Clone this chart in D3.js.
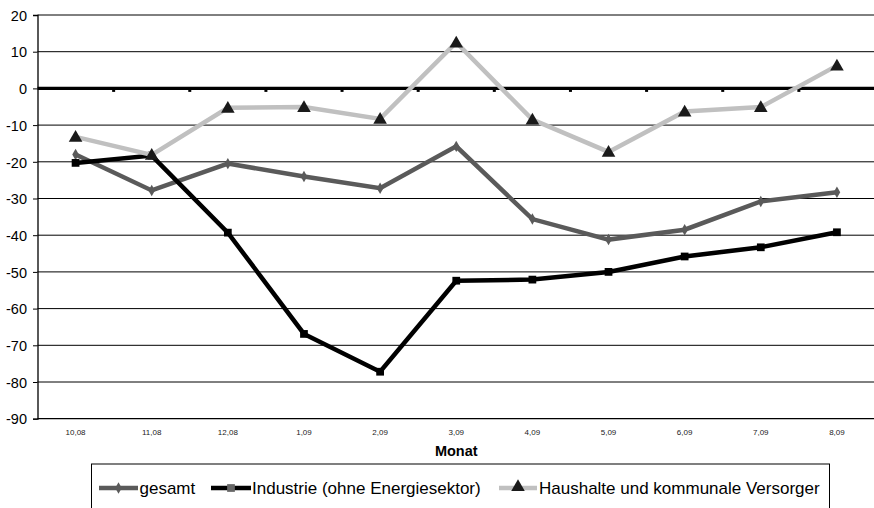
<!DOCTYPE html>
<html>
<head>
<meta charset="utf-8">
<script src="https://cdn.jsdelivr.net/npm/d3@7"></script>
<style>
  html, body { margin: 0; padding: 0; background: #fff; }
  svg { display: block; font-family: "Liberation Sans", Arial, sans-serif; }
</style>
</head>
<body>
<svg id="chart" width="874" height="508"></svg>
<script>
// Monthly change by consumer group
const months = ["10,08", "11,08", "12,08", "1,09", "2,09", "3,09", "4,09", "5,09", "6,09", "7,09", "8,09"];
const gesamt = [-18, -27.8, -20.5, -24.0, -27.2, -15.8, -35.6, -41.2, -38.5, -30.8, -28.3];
const industrie = [-20.3, -18.3, -39.3, -66.9, -77.2, -52.4, -52.1, -50.0, -45.8, -43.3, -39.2];
const haushalte = [-13.2, -18.1, -5.3, -5.1, -8.3, 12.5, -8.5, -17.3, -6.3, -5.1, 6.2];
const yTicks = [20, 10, 0, -10, -20, -30, -40, -50, -60, -70, -80, -90];
const seriesNames = ["gesamt", "Industrie (ohne Energiesektor)", "Haushalte und kommunale Versorger"];

const series = [
  { name: seriesNames[0], values: gesamt, color: "#5a5a5a", marker: "diamond", markerColor: "#5a5a5a", legendMarker: "#5a5a5a" },
  { name: seriesNames[1], values: industrie, color: "#000000", marker: "square", markerColor: "#000000", legendMarker: "#666666" },
  { name: seriesNames[2], values: haushalte, color: "#c0c0c0", marker: "triangle", markerColor: "#1a1a1a", legendMarker: "#1a1a1a" }
];

const svg = d3.select("#chart");
const plotLeft = 37.5, plotRight = 875, plotTop = 15, plotBottom = 418.7;

const x = d3.scaleBand().domain(months).range([plotLeft, plotRight]);
const y = d3.scaleLinear().domain([-90, 20]).range([plotBottom, plotTop]);
const cx = m => x(m) + x.bandwidth() / 2;

// horizontal gridlines
svg.append("g").selectAll("line").data(yTicks.filter(v => v !== 0 && v !== -90)).join("line")
  .attr("x1", plotLeft).attr("x2", plotRight)
  .attr("y1", d => y(d)).attr("y2", d => y(d))
  .attr("stroke", "#000").attr("stroke-width", 1);

// y axis (plain hyphen for negative numbers)
const yAxis = d3.axisLeft(y).tickValues(yTicks).tickSize(4.5).tickPadding(6).tickFormat(d => String(d));
const yg = svg.append("g").attr("transform", `translate(${plotLeft},0)`).call(yAxis);
yg.select(".domain").attr("stroke", "#000").attr("stroke-width", 1.3);
yg.selectAll(".tick line").attr("stroke", "#000");
yg.selectAll(".tick text").attr("font-size", 14.5).attr("fill", "#000")
  .attr("font-family", "Liberation Sans, Arial, sans-serif").attr("dy", "0.36em");

// bottom frame line
svg.append("line").attr("x1", plotLeft).attr("x2", plotRight).attr("y1", plotBottom).attr("y2", plotBottom)
  .attr("stroke", "#000").attr("stroke-width", 1.3);

// category labels below the plot
svg.append("g").selectAll("text").data(months).join("text")
  .attr("x", d => cx(d)).attr("y", 434.5)
  .attr("text-anchor", "middle").attr("font-size", 8).attr("fill", "#222")
  .text(d => d);

// zero line with category-boundary ticks
svg.append("line").attr("x1", plotLeft).attr("x2", plotRight).attr("y1", y(0)).attr("y2", y(0))
  .attr("stroke", "#000").attr("stroke-width", 3.2);
svg.append("g").selectAll("rect").data(months.slice(1)).join("rect")
  .attr("x", d => x(d) - 1.5).attr("y", y(0)).attr("width", 3).attr("height", 3.5)
  .attr("fill", "#000");

// axis title
svg.append("text").attr("x", (plotLeft + plotRight) / 2).attr("y", 456)
  .attr("text-anchor", "middle").attr("font-size", 14.5).attr("font-weight", "bold")
  .text("Monat");

// marker shapes
const symbolFor = {
  diamond: d3.symbol().type(d3.symbolDiamond).size(38),
  square: d3.symbol().type(d3.symbolSquare).size(60),
  triangle: d3.symbol().type(d3.symbolTriangle).size(80)
};

const line = d3.line().x((d, i) => cx(months[i])).y(d => y(d));

series.forEach(s => {
  const g = svg.append("g");
  g.append("path").datum(s.values)
    .attr("d", line).attr("fill", "none")
    .attr("stroke", s.color).attr("stroke-width", 4.5).attr("stroke-linejoin", "miter");
  g.selectAll("path.pt").data(s.values).join("path").attr("class", "pt")
    .attr("transform", (d, i) => `translate(${cx(months[i])},${y(d) + (s.marker === "triangle" ? 1 : 0)})`)
    .attr("d", symbolFor[s.marker]())
    .attr("fill", s.markerColor);
});

// legend
const lg = svg.append("g");
lg.append("rect").attr("x", 91.5).attr("y", 464).attr("width", 738).attr("height", 60)
  .attr("fill", "#fff").attr("stroke", "#000").attr("stroke-width", 1);

const legendPos = [
  { x1: 99, x2: 138, tx: 139.5 },
  { x1: 211, x2: 251, tx: 252 },
  { x1: 499, x2: 537, tx: 539 }
];
series.forEach((s, i) => {
  const p = legendPos[i];
  const ly = 488;
  lg.append("line").attr("x1", p.x1).attr("x2", p.x2).attr("y1", ly).attr("y2", ly)
    .attr("stroke", s.color).attr("stroke-width", 4.5);
  lg.append("path")
    .attr("transform", `translate(${(p.x1 + p.x2) / 2},${ly + (s.marker === "triangle" ? -1 : 0)})`)
    .attr("d", symbolFor[s.marker]())
    .attr("fill", s.legendMarker);
  lg.append("text").attr("x", p.tx).attr("y", ly + 6.3)
    .attr("font-size", 17).attr("fill", "#000")
    .text(s.name);
});
</script>
</body>
</html>
